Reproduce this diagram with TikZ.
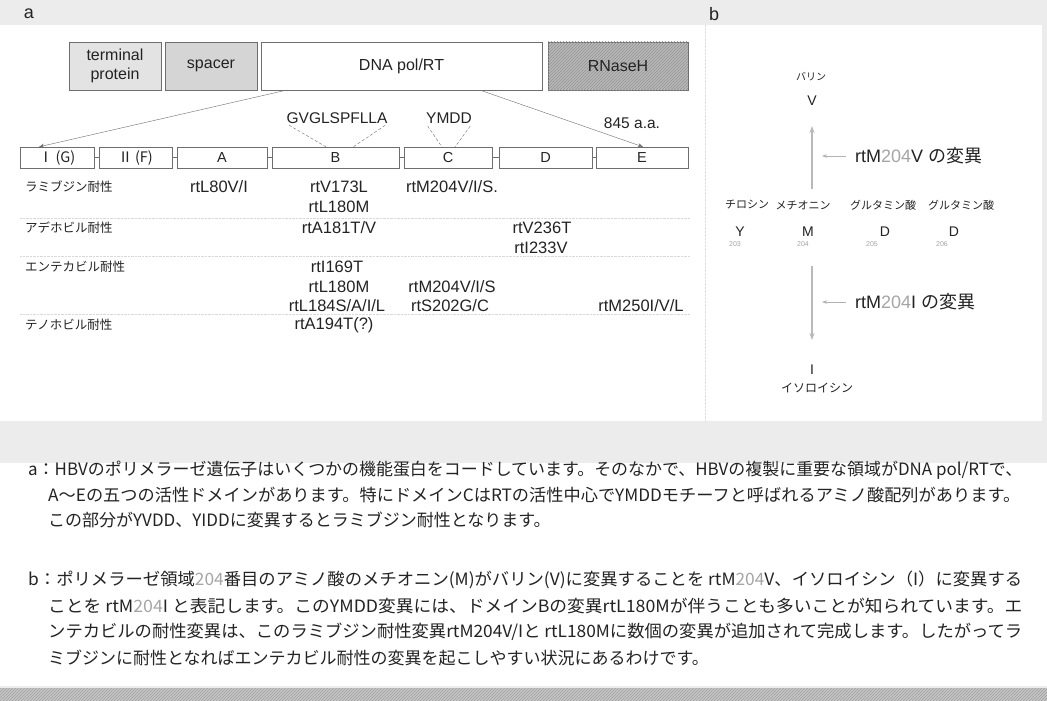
\documentclass[tikz,border=0pt]{standalone}
\usepackage{fontspec}
\setmainfont{Liberation Sans}
\newfontfamily\jp{Noto Sans CJK JP}
\usepackage{graphicx}
\usepackage{tikz}
\usetikzlibrary{arrows.meta,positioning,calc,patterns}
\definecolor{inkgray}{RGB}{35,35,35}
\definecolor{linegray}{RGB}{110,110,110}
\definecolor{numgray}{RGB}{165,165,165}
\definecolor{paper}{RGB}{236,236,236}
\newcommand\fsz[1]{\fontsize{#1}{#1}\selectfont}
% legend lines run to the right margin
\newcommand\fitto[2]{\resizebox{#1}{\height}{#2}}

\begin{document}
\begin{tikzpicture}[x=1pt,y=-1pt,>=Stealth,
    topbox/.style={draw=linegray,minimum height=48pt,inner sep=0pt,font=\fsz{16},text=inkgray,align=center},
    dombox/.style={draw=linegray,minimum height=21pt,inner sep=0pt,font=\fsz{14.5},text=inkgray},
    mut/.style={font=\fsz{16.5},inner sep=0pt,text=inkgray},
    drug/.style={font=\jp\fsz{12.5},anchor=west,inner sep=0pt,text=inkgray},
    motif/.style={font=\fsz{15.5},inner sep=0pt,text=inkgray},
    kana/.style={font=\jp\fsz{11},inner sep=0pt,text=inkgray},
    amino/.style={font=\fsz{14},inner sep=0pt,text=inkgray},
    resno/.style={font=\fsz{7},inner sep=0pt,text=numgray},
    chg/.style={font=\fsz{18},inner sep=0pt,anchor=west,text=inkgray},
    bigarr/.style={->,draw=gray!55,line width=1.1pt,>={Stealth[length=7pt,width=5pt]}},
    ptr/.style={->,draw=gray!60,line width=0.6pt,>={Stealth[length=5pt,width=3.5pt]}},
    captxt/.style={font=\jp\fsz{17},inner sep=0pt,anchor=west,text=inkgray}]
  % page ground
  \fill[paper] (0,0) rectangle (1047,701);
  \fill[white] (0,25) rectangle (1042,421);
  \draw[gray!25,densely dotted] (705,25) -- (705,421);
  \fill[white] (0,463) rectangle (1047,686);
  \fill[gray!45,postaction={pattern=north east lines,pattern color=gray!75}] (0,688) rectangle (1047,701);
  \useasboundingbox (0,0) rectangle (1047,701);
  \node[font=\fsz{18},inner sep=0pt,text=inkgray] (laba) at (29,14) {a};
  \node[font=\fsz{18},inner sep=0pt,text=inkgray] (labb) at (714,14) {b};

  % polymerase gene
  \node[topbox,fill=gray!22,minimum width=92pt,font=\fontsize{16}{19}\selectfont] (term) at (115,66) {terminal\\protein};
  \node[topbox,fill=gray!33,minimum width=92pt] (spacer) at (211,66) {spacer};
  \node[topbox,fill=white,minimum width=281pt] (dna) at (401.5,66) {DNA pol/RT};
  \node[topbox,fill=gray!55,minimum width=140pt,postaction={pattern=north east lines,pattern color=gray!85}] (rnase) at (618,66) {RNaseH};

  % domains of pol/RT
  \node[dombox,minimum width=74pt] (dI) at (57,157.5) {\jp Ⅰ\,(G)};
  \node[dombox,minimum width=73pt] (dII) at (135.5,157.5) {\jp Ⅱ\,(F)};
  \node[dombox,minimum width=90pt] (dA) at (222,157.5) {A};
  \node[dombox,minimum width=127pt] (dB) at (335.5,157.5) {B};
  \node[dombox,minimum width=88pt] (dC) at (448,157.5) {C};
  \node[dombox,minimum width=93pt] (dD) at (545.5,157.5) {D};
  \node[dombox,minimum width=92pt] (dE) at (642,157.5) {E};
  \foreach \p/\q in {dI/dII,dII/dA,dA/dB,dB/dC,dC/dD,dD/dE}
    \draw[linegray] (\p) -- (\q);
  \draw[->,linegray,>={Stealth[length=5pt,width=4pt]}] ($(dna.south west)!0.09!(dna.south east)$) -- ($(dI.north west)!0.26!(dI.north east)$);
  \draw[->,linegray,>={Stealth[length=5pt,width=4pt]}] ($(dna.south west)!0.78!(dna.south east)$) -- ($(dE.north west)!0.51!(dE.north east)$);

  % motifs
  \node[motif] (gv) at (337,118) {GVGLSPFLLA};
  \node[motif] (ymdd) at (449,118) {YMDD};
  \node[motif] (len) at (632,123) {845 a.a.};
  \draw[linegray,densely dashed,shorten <=3pt] (gv.south west) -- ($(dB.north west)!0.425!(dB.north east)$);
  \draw[linegray,densely dashed,shorten <=3pt] (gv.south east) -- ($(dB.north west)!0.64!(dB.north east)$);
  \draw[linegray,densely dashed,shorten <=3pt] (ymdd.south west) -- ($(dC.north west)!0.43!(dC.north east)$);
  \draw[linegray,densely dashed,shorten <=3pt] (ymdd.south east) -- ($(dC.north west)!0.58!(dC.north east)$);

  % resistance table
  \draw[gray!30,densely dotted] (20,218) -- (690,218);
  \draw[gray!30,densely dotted] (20,256) -- (690,256);
  \draw[gray!30,densely dotted] (20,314) -- (690,314);
  \node[drug] (lam) at (25,187) {ラミブジン耐性};
  \node[mut] (m1) at (219,187) {rtL80V/I};
  \node[mut] (m2) at (339,187) {rtV173L};
  \node[mut] (m3) at (452,187) {rtM204V/I/S.};
  \node[mut] (m4) at (339,207) {rtL180M};
  \node[drug] (ade) at (25,228) {アデホビル耐性};
  \node[mut] (m5) at (339,228) {rtA181T/V};
  \node[mut] (m6) at (542,228) {rtV236T};
  \node[mut] (m7) at (541,248) {rtI233V};
  \node[drug] (ent) at (25,267) {エンテカビル耐性};
  \node[mut] (m8) at (337,267) {rtI169T};
  \node[mut] (m9) at (339,287) {rtL180M};
  \node[mut] (m10) at (452,287) {rtM204V/I/S};
  \node[mut] (m11) at (337,306) {rtL184S/A/I/L};
  \node[mut] (m12) at (450,306) {rtS202G/C};
  \node[mut] (m13) at (641,306) {rtM250I/V/L};
  \node[drug] (ten) at (25,325) {テノホビル耐性};
  \node[mut] (m14) at (334,325) {rtA194T(?)};

  % YMDD codons
  \node[kana,font=\jp\fsz{10}] (val) at (811,77) {バリン};
  \node[amino] (valV) at (812,101) {V};
  \node[kana] (tyr) at (747,205) {チロシン};
  \node[kana] (met) at (803,205) {メチオニン};
  \node[kana] (glu1) at (883,205) {グルタミン酸};
  \node[kana] (glu2) at (961,205) {グルタミン酸};
  \node[amino] (aY) at (740,232) {Y};
  \node[amino] (aM) at (808,232) {M};
  \node[amino] (aD1) at (885,232) {D};
  \node[amino] (aD2) at (954,232) {D};
  \node[resno] (p203) at (735,244) {203};
  \node[resno] (p204) at (803,244) {204};
  \node[resno] (p205) at (872,244) {205};
  \node[resno] (p206) at (942,244) {206};
  \node[amino] (ileI) at (812,370) {I};
  \node[kana,font=\jp\fsz{12}] (ile) at (817,388) {イソロイシン};
  \draw[bigarr,shorten <=11pt,shorten >=20pt] (valV.south |- met.north) -- (valV.south);
  \draw[bigarr,shorten <=19pt,shorten >=25pt] (ileI.north |- p204.south) -- (ileI.north);
  \node[chg] (muV) at (855,156) {rtM\textcolor{numgray}{204}V {\jp の変異}};
  \node[chg] (muI) at (855,302) {rtM\textcolor{numgray}{204}I {\jp の変異}};
  \draw[ptr] ([xshift=-9pt]muV.west) -- ([xshift=-33pt]muV.west);
  \draw[ptr] ([xshift=-9pt]muI.west) -- ([xshift=-33pt]muI.west);

  % legend text
  \node[captxt] (ca1) at (28,470) {\fitto{994pt}{a：HBVのポリメラーゼ遺伝子はいくつかの機能蛋白をコードしています。そのなかで、HBVの複製に重要な領域がDNA pol/RTで、}};
  \node[captxt] (ca2) at (48,495) {\fitto{972pt}{A～Eの五つの活性ドメインがあります。特にドメインCはRTの活性中心でYMDDモチーフと呼ばれるアミノ酸配列があります。}};
  \node[captxt] (ca3) at (48,520) {この部分がYVDD、YIDDに変異するとラミブジン耐性となります。};
  \node[captxt] (cb1) at (28,580) {\fitto{994pt}{b：ポリメラーゼ領域\textcolor{numgray}{204}番目のアミノ酸のメチオニン(M)がバリン(V)に変異することを rtM\textcolor{numgray}{204}V、イソロイシン（I）に変異する}};
  \node[captxt] (cb2) at (48,606) {\fitto{974pt}{ことを rtM\textcolor{numgray}{204}I と表記します。このYMDD変異には、ドメインBの変異rtL180Mが伴うことも多いことが知られています。エ}};
  \node[captxt] (cb3) at (48,632) {\fitto{974pt}{ンテカビルの耐性変異は、このラミブジン耐性変異rtM204V/Iと rtL180Mに数個の変異が追加されて完成します。したがってラ}};
  \node[captxt] (cb4) at (48,658) {ミブジンに耐性となればエンテカビル耐性の変異を起こしやすい状況にあるわけです。};
\end{tikzpicture}
\end{document}
